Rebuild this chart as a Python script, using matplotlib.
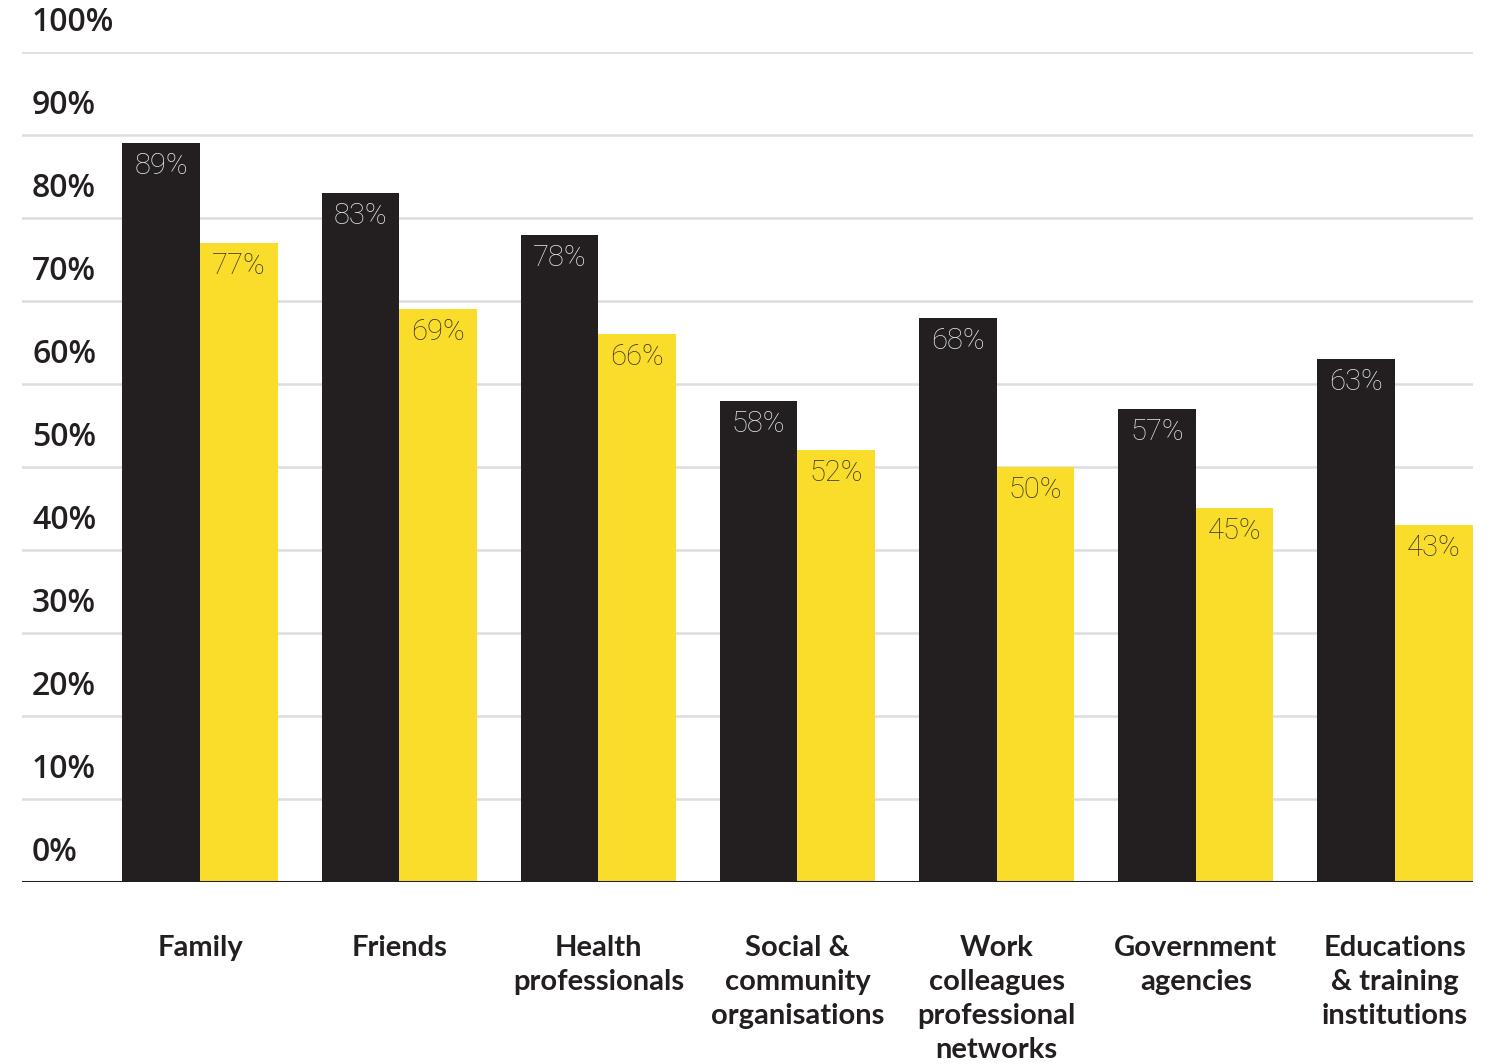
import matplotlib
matplotlib.use("Agg")
import matplotlib.pyplot as plt
import numpy as np

categories = [
    "Family",
    "Friends",
    "Health\nprofessionals",
    "Social &\ncommunity\norganisations",
    "Work\ncolleagues\nprofessional\nnetworks",
    "Government\nagencies",
    "Educations\n& training\ninstitutions",
]
series_dark = [89, 83, 78, 58, 68, 57, 63]
series_yellow = [77, 69, 66, 52, 50, 45, 43]
y_ticks = [0, 10, 20, 30, 40, 50, 60, 70, 80, 90, 100]

DARK = "#231f20"
YELLOW = "#f9dd2a"
GRID = "#dddddd"
TEXT = "#231f20"

W, H = 1493, 1064
fig = plt.figure(figsize=(W / 100, H / 100), dpi=100)

# axes box in pixel terms: x 22..1473, y 52..882 (from top)
ax = fig.add_axes([22 / W, 1 - 882 / H, 1451 / W, 830 / H])

x = np.arange(len(categories))
width = 0.39
ax.set_xlim(-0.894, 6.392)
ax.set_ylim(0, 100)

for v in y_ticks[1:]:
    ax.axhline(v, color=GRID, lw=1.8, zorder=0)
ax.axhline(0, color=DARK, lw=2.2, zorder=3)

bars_d = ax.bar(x - width / 2, series_dark, width, color=DARK, zorder=2)
bars_y = ax.bar(x + width / 2, series_yellow, width, color=YELLOW, zorder=2)

val_font = dict(family="Roboto", weight="light", fontsize=21)
for bars, vals, col in [(bars_d, series_dark, "#e4e4e4"), (bars_y, series_yellow, "#3a3526")]:
    for b, v in zip(bars, vals):
        ax.annotate(f"{v}%", (b.get_x() + b.get_width() / 2, v),
                    xytext=(0, -16.5), textcoords="offset points",
                    ha="center", va="center", color=col, **val_font)

# y tick labels sit above their gridlines
for v in y_ticks:
    ax.annotate(f"{v}%", (10 / 1451, v), xycoords=("axes fraction", "data"),
                xytext=(0, 21), textcoords="offset points",
                ha="left", va="center", color=TEXT, family="Open Sans",
                weight="semibold", fontsize=23, annotation_clip=False)

for xi, lab in zip(x, categories):
    ax.annotate(lab, (xi, 0), xytext=(0, -38), textcoords="offset points",
                ha="center", va="top", color=TEXT, family="Lato",
                weight="bold", fontsize=21, linespacing=1.38,
                annotation_clip=False)

ax.set_xticks([])
ax.set_yticks([])
for s in ax.spines.values():
    s.set_visible(False)

fig.savefig("out.png", dpi=100, facecolor="white")
